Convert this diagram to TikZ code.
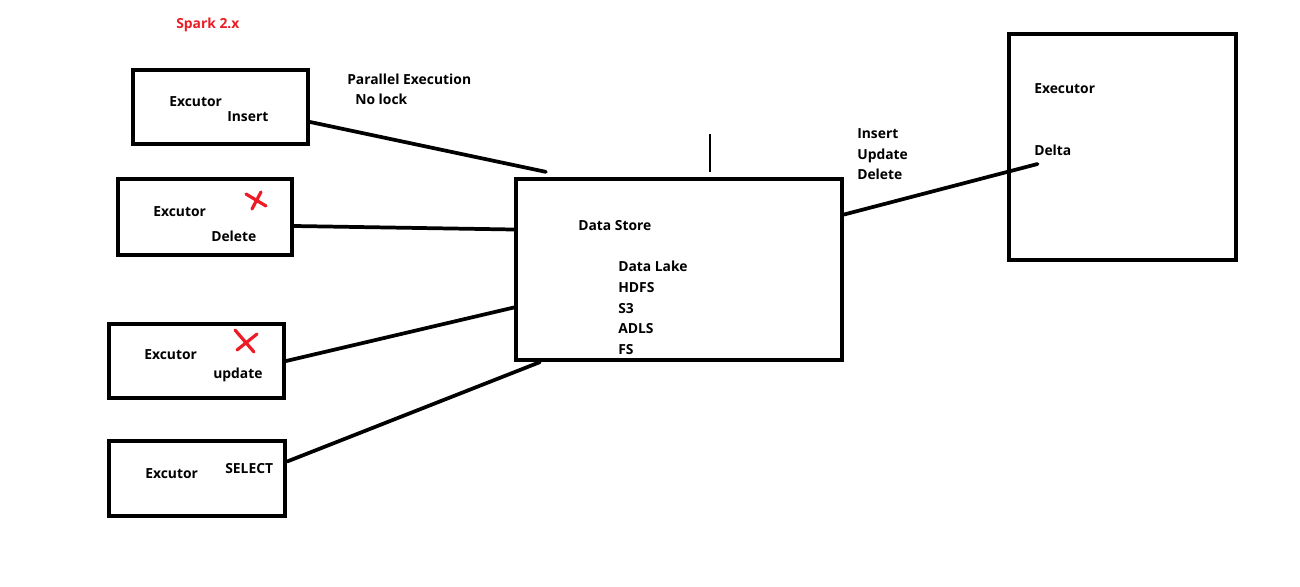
\documentclass[tikz,border=0pt]{standalone}
\usepackage{fontspec}
\setmainfont{Open Sans}
\usetikzlibrary{fit,calc}
\definecolor{paintred}{RGB}{237,28,36}
\tikzset{
  exbox/.style={draw, line width=3.2pt, inner sep=0pt},
  link/.style={line width=2.8pt, line cap=round},
  lbl/.style={anchor=base west, inner sep=0pt, font=\fontsize{10.4}{12}\selectfont\bfseries},
  cross/.style={draw=paintred, line width=2.4pt, line cap=round}
}
\begin{document}
\begin{tikzpicture}[x=0.75pt,y=-0.75pt]
\useasboundingbox (0,0) rectangle (1300,586);

% executors on the left
\node[exbox, fit={(133,70) (308,144)}] (ins) {};
\node[exbox, fit={(118,179) (292,255)}] (del) {};
\node[exbox, fit={(109,324) (284,398)}] (upd) {};
\node[exbox, fit={(109,441) (285,516)}] (sel) {};
% data store and delta executor
\node[exbox, fit={(516,179) (842,360)}] (store) {};
\node[exbox, fit={(1009,34) (1236,260)}] (delta) {};

\node[lbl, text=paintred] (title) at (176,28) {Spark 2.x};
\node[lbl] (insex) at (169,106) {Excutor};
\node[lbl] (insop) at (227,121) {Insert};
\node[lbl] (par) at (347,84) {Parallel Execution};
\node[lbl] (nolock) at (355,104) {No lock};
\node[lbl] (delex) at (153,216) {Excutor};
\node[lbl] (delop) at (211,241) {Delete};
\node[lbl] (updex) at (144,359) {Excutor};
\node[lbl] (updop) at (213,378) {update};
\node[lbl] (selex) at (145,478) {Excutor};
\node[lbl] (selop) at (225,473) {SELECT};
\node[lbl] (storename) at (578,230) {Data Store};
\node[lbl] (lake) at (618,271) {Data Lake};
\node[lbl] (hdfs) at (618,292) {HDFS};
\node[lbl] (sthree) at (618,313) {S3};
\node[lbl] (adls) at (618,333) {ADLS};
\node[lbl] (fs) at (618,354) {FS};
\node[lbl] (opins) at (857,138) {Insert};
\node[lbl] (opupd) at (857,159) {Update};
\node[lbl] (opdel) at (857,179) {Delete};
\node[lbl] (deltaex) at (1034,93) {Executor};
\node[lbl] (deltaname) at (1034,155) {Delta};

% red crosses
\draw[cross] (246,194) -- (266,206) (261,192) -- (252,209);
\draw[cross] (235,330) -- (254,352) (257,334) -- (237,350);

% connectors
\draw[link] ($(ins.east)+(0,15)$) -- ($(store.north west)+(32,-5)$);
\draw[link] ($(del.east)+(0,9)$) -- ($(store.west)+(0,-40)$);
\draw[link] (upd.east) -- ($(store.west)+(0,38)$);
\draw[link] ($(sel.east)+(0,-17)$) -- ($(store.south west)+(26,0)$);
\coordinate (deltaend) at ($(delta.center)+(-85,17)$);
\draw[link] ($(store.east)+(0,-55)$) -- (deltaend);

% thin tick above the store and small marks on its left side
\coordinate (tick) at (710,134);
\draw[line width=0.8pt] (tick) -- ($(tick |- store.north)+(0,-5)$);
\draw[line width=2.2pt] ($(store.west)+(0,3.5)$) -- ++(4,0);
\draw[line width=2.2pt] ($(store.west)+(0,62.5)$) -- ++(3,0);

\end{tikzpicture}
\end{document}
